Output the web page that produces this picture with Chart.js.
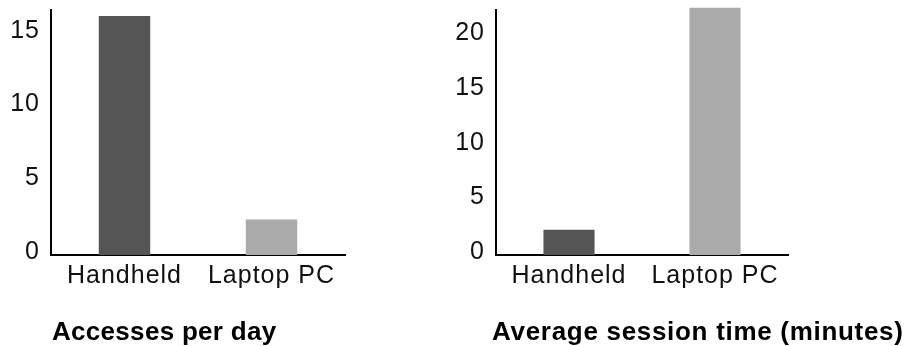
<!DOCTYPE html>
<html>
<head>
<meta charset="utf-8">
<script src="https://cdn.jsdelivr.net/npm/chart.js@4.4.1/dist/chart.umd.min.js"></script>
<style>
  body { margin: 0; background: #fff; }
  .box { position: absolute; top: 0; height: 346px; }
</style>
</head>
<body>
<div class="box" style="left:0;width:453px"><canvas id="canvasAccesses"></canvas></div>
<div class="box" style="left:453px;width:454px"><canvas id="canvasSession"></canvas></div>
<script>
var categories = ['Handheld', 'Laptop PC'];
var accessesPerDay = [16.2, 2.4];
var sessionMinutes = [2.3, 22.6];
var accessTicks = [0, 5, 10, 15];
var sessionTicks = [0, 5, 10, 15, 20];
var barColors = ['#555555', '#aaaaaa'];

Chart.defaults.font.family = "'Liberation Sans', Arial, sans-serif";
Chart.defaults.color = '#111';

// wider letters like the original picture
var spacing = {
  id: 'spacing',
  beforeUpdate: function (chart) { chart.ctx.letterSpacing = '1px'; },
  beforeDraw: function (chart) { chart.ctx.letterSpacing = '1px'; }
};

// bold caption under the plot, not squeezed to the plot width
var tituloAbajo = {
  id: 'tituloAbajo',
  afterDraw: function (chart, args, opts) {
    var c = chart.ctx;
    c.save();
    c.letterSpacing = opts.spacing;
    c.font = 'bold ' + opts.size + "px 'Liberation Sans', Arial, sans-serif";
    c.fillStyle = '#000';
    c.textAlign = 'left';
    c.textBaseline = 'alphabetic';
    c.fillText(opts.text, chart.chartArea.left + opts.dx, opts.y);
    c.restore();
  }
};

function graficaBarras(id, values, ticks, maxY, axisWidth, padRight, titulo, dx, size, letra) {
  var ctx = document.getElementById(id).getContext('2d');
  return new Chart(ctx, {
    type: 'bar',
    data: {
      labels: categories,
      datasets: [{
        data: values,
        backgroundColor: barColors,
        borderWidth: 0,
        barPercentage: 0.35,
        categoryPercentage: 1,
        clip: false
      }]
    },
    plugins: [spacing, tituloAbajo],
    options: {
      responsive: true,
      maintainAspectRatio: false,
      animation: false,
      layout: { padding: { top: 10, right: padRight, bottom: 49, left: 0 } },
      plugins: {
        legend: { display: false },
        tooltip: { enabled: false },
        title: { display: false },
        tituloAbajo: { text: titulo, dx: dx, y: 340, size: size, spacing: letra }
      },
      scales: {
        x: {
          grid: { display: false, drawTicks: false },
          border: { color: '#000', width: 2 },
          ticks: { font: { size: 25 }, padding: 6, maxRotation: 0 }
        },
        y: {
          min: 0,
          max: maxY,
          grid: { display: false, drawTicks: false },
          border: { color: '#000', width: 2 },
          ticks: { font: { size: 25 }, padding: 11, labelOffset: -3 },
          afterBuildTicks: function (scale) {
            scale.ticks = ticks.map(function (v) { return { value: v }; });
          },
          afterFit: function (scale) {
            scale.width = axisWidth;
            scale.paddingTop = 0;
            scale.paddingBottom = 0;
          }
        }
      }
    }
  });
}

graficaBarras('canvasAccesses', accessesPerDay, accessTicks, 16.6, 51, 108, 'Accesses per day', 1, 26, '0.3px');
graficaBarras('canvasSession', sessionMinutes, sessionTicks, 22.4, 43, 119, 'Average session time (minutes)', -4, 26, '0.7px');
</script>
</body>
</html>
